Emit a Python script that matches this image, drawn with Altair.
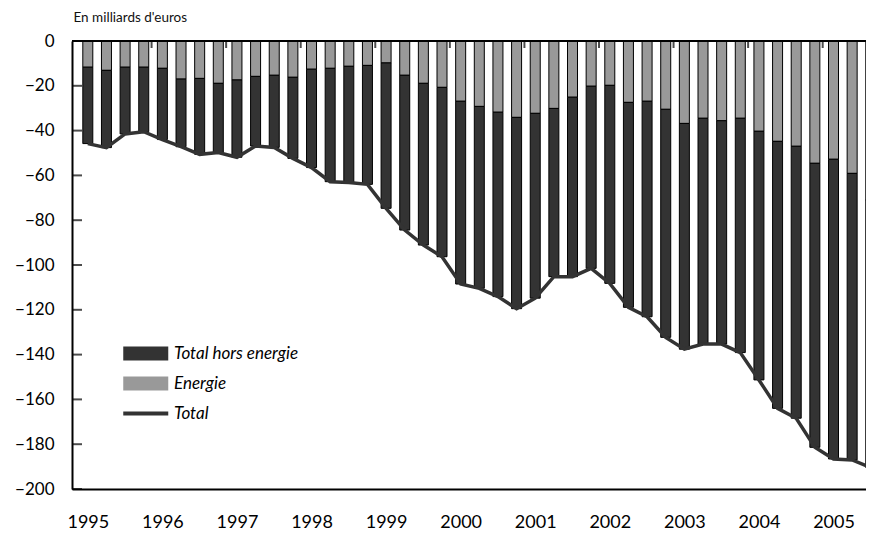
import altair as alt
import pandas as pd

# ---- data (milliards d'euros, quarterly 1995T1 .. 2005T3) ----
years = ["1995", "1996", "1997", "1998", "1999", "2000", "2001", "2002", "2003", "2004", "2005"]

energie = [-11.7, -13.1, -11.7, -11.7, -12.2, -17.0, -16.7, -18.9, -17.4, -15.8,
           -15.3, -16.2, -12.6, -12.2, -11.3, -10.9, -9.8, -15.3, -18.9, -20.7,
           -26.9, -29.2, -31.8, -34.1, -32.3, -30.1, -25.1, -20.2, -19.8, -27.4,
           -26.9, -30.5, -36.8, -34.5, -35.6, -34.5, -40.3, -44.8, -47.0, -54.6,
           -52.8, -59.1, -71.0]

hors_energie = [-34.1, -34.5, -29.8, -28.8, -31.8, -30.2, -33.9, -30.9, -34.5, -31.1,
                -32.2, -36.2, -43.9, -50.6, -51.9, -53.1, -64.9, -69.1, -72.2, -75.6,
                -81.6, -81.2, -82.3, -85.4, -82.5, -75.1, -80.1, -81.3, -88.4, -91.5,
                -96.2, -101.8, -100.8, -100.8, -99.7, -104.6, -111.0, -119.2, -121.4, -126.8,
                -133.8, -127.9, -119.4]

total = [-45.8, -47.6, -41.5, -40.5, -44.0, -47.2, -50.6, -49.8, -51.9, -46.9,
         -47.5, -52.4, -56.5, -62.8, -63.2, -64.0, -74.7, -84.4, -91.1, -96.3,
         -108.5, -110.4, -114.1, -119.5, -114.8, -105.2, -105.2, -101.5, -108.2, -118.9,
         -123.1, -132.3, -137.6, -135.3, -135.3, -139.1, -151.3, -164.0, -168.4, -181.4,
         -186.6, -187.0, -190.4]

y_ticks = [0, -20, -40, -60, -80, -100, -120, -140, -160, -180, -200]

series_names = ["Total hors energie", "Energie", "Total"]
series_colors = ["#333333", "#999999", "#333333"]

n = len(total)
quarters = list(range(n))
year_starts = [4 * k for k in range(len(years))]

# layout constants
PLOT_W, PLOT_H = 794, 448
Q_PX = 18.88
BAR_OFFSET = 0.58
x_domain = [-BAR_OFFSET, -BAR_OFFSET + PLOT_W / Q_PX]

bars_df = pd.DataFrame({
    "q": quarters * 2,
    "serie": ["Energie"] * n + ["Total hors energie"] * n,
    "valeur": energie + hors_energie,
    "ordre": [0] * n + [1] * n,
})
line_df = pd.DataFrame({"q": quarters, "total": total})
ytick_df = pd.DataFrame({"v": y_ticks})
bound_df = pd.DataFrame({"b": [s - BAR_OFFSET for s in year_starts[1:]]})
zero_df = pd.DataFrame({"z": [0]})

FONT = "Lato"

x_scale = alt.Scale(domain=x_domain, nice=False, zero=False)
y_scale = alt.Scale(domain=[-200, 0], nice=False, zero=False)

label_expr = "[" + ",".join("'%s'" % y for y in years) + "][round(datum.value / 4)]"

x_axis = alt.Axis(values=year_starts, labelExpr=label_expr, title=None,
                  labelFont=FONT, labelFontSize=18, labelColor="black",
                  labelPadding=24, ticks=False, grid=False,
                  domainColor="black", domainWidth=2,
                  labelFlush=False, labelOverlap=False)

y_axis = alt.Axis(values=y_ticks, title="En milliards d'euros",
                  titleAngle=0, titleAlign="left", titleBaseline="alphabetic",
                  titleX=1, titleY=-20, titleFont=FONT, titleFontSize=13.5,
                  titleFontWeight="normal", titleColor="#111111",
                  labelFont=FONT, labelFontSize=17, labelColor="black",
                  labelPadding=18, ticks=False, grid=False,
                  domainColor="black", domainWidth=2)

X = alt.X("q:Q", scale=x_scale, axis=x_axis)

RECT = "M-1,-0.62L3,-0.62L3,0.62L-1,0.62Z"
LINE = "M-1,-0.18L3,-0.18L3,0.18L-1,0.18Z"

legend = alt.Legend(
    title=None, orient="none", legendX=51, legendY=301, padding=0,
    symbolType={"expr": "datum.value === 'Total' ? '%s' : '%s'" % (LINE, RECT)},
    symbolSize=506.25, symbolStrokeWidth=0, symbolOpacity=1,
    labelFont=FONT, labelFontSize=17, labelFontStyle="italic", labelColor="black",
    labelOffset=28, rowPadding=10,
)

bars = alt.Chart(bars_df).mark_bar(size=10, stroke="black", strokeWidth=1, clip=True).encode(
    x=X,
    y=alt.Y("valeur:Q", stack="zero", scale=y_scale, axis=y_axis),
    color=alt.Color("serie:N", scale=alt.Scale(domain=series_names, range=series_colors),
                    legend=legend),
    order=alt.Order("ordre:Q"),
)

line = alt.Chart(line_df).mark_line(color="#333333", strokeWidth=3.5, clip=True).encode(
    x=X,
    y=alt.Y("total:Q", scale=y_scale, axis=y_axis),
)

zero_rule = alt.Chart(zero_df).mark_rule(color="black", strokeWidth=2).encode(
    y=alt.Y("z:Q", scale=y_scale, axis=y_axis),
)

y_inner_ticks = alt.Chart(ytick_df).mark_tick(orient="horizontal", size=10, thickness=2,
                                              color="black").encode(
    y=alt.Y("v:Q", scale=y_scale, axis=y_axis),
    x=alt.value(5),
)

year_ticks = alt.Chart(bound_df).mark_tick(orient="vertical", size=7, thickness=2,
                                           color="black", yOffset=3.5).encode(
    x=alt.X("b:Q", scale=x_scale, axis=x_axis),
    y=alt.datum(0),
)

chart = alt.layer(bars, line, zero_rule, y_inner_ticks, year_ticks).properties(
    width=PLOT_W, height=PLOT_H,
    padding={"left": 64, "top": 33, "right": 0, "bottom": 42},
    autosize=alt.AutoSizeParams(type="none"),
    background="white",
).configure_view(strokeWidth=0)

chart.save("out.html", embed_options={"renderer": "svg", "actions": False})
